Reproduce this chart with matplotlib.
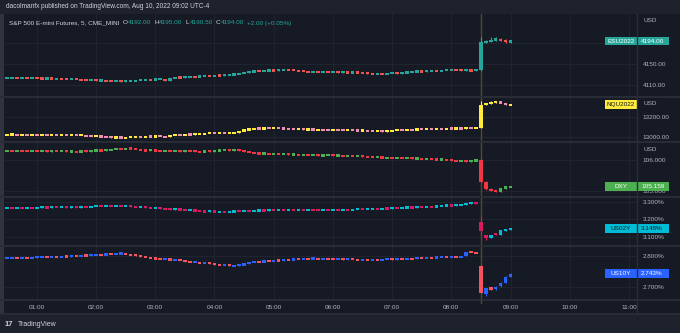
import matplotlib
matplotlib.use('Agg')
import matplotlib.pyplot as plt
import numpy as np
from matplotlib.patches import Rectangle
from matplotlib.lines import Line2D
from matplotlib.transforms import blended_transform_factory
from matplotlib.ticker import FixedLocator, FuncFormatter

W, H = 680, 333
BG = '#161a25'
PANEL = '#1e222d'
GRID = '#20242f'
SEP = '#2a2e39'
TXT = '#b2b5be'

plt.rcParams['font.family'] = ['Liberation Sans', 'DejaVu Sans']

# 5-minute bars from 00:30 to 09:00
bar_minutes = np.arange(30, 545, 5)
hour_ticks = np.arange(60, 661, 60)
hour_labels = ['%02d:00' % (m // 60) for m in hour_ticks]
release_minute = 510  # 08:30 CPI

# closes of the quiet bars, 00:30 .. 08:25
es_close = [
    4123.5, 4124.0, 4123.25, 4123.75, 4123.0, 4123.5,
    4122.5, 4122.0, 4122.75, 4121.5, 4122.25, 4121.75, 4121.0, 4121.5, 4120.75,
    4119.5, 4118.75, 4119.25, 4118.25, 4118.75,
    4117.5, 4116.75, 4117.25, 4116.5, 4117.0, 4117.75,
    4118.5, 4119.75, 4120.5, 4119.75, 4120.75, 4121.0,
    4117.5,
    4123.25, 4124.5, 4124.0, 4125.25, 4126.0, 4125.5, 4126.75,
    4127.5, 4127.0, 4128.0, 4127.75, 4128.75, 4129.5, 4130.0,
    4132.5, 4133.75, 4135.0,
    4136.5, 4136.0, 4137.5, 4138.0, 4137.25, 4139.0, 4139.5, 4138.75, 4137.75,
    4136.5, 4135.75, 4135.0, 4135.5, 4134.25, 4134.75, 4134.0,
    4134.5, 4133.75, 4134.25, 4133.5, 4134.0, 4133.25, 4132.75,
    4131.75, 4131.0, 4132.0, 4131.25, 4132.0,
    4132.5, 4131.75, 4132.75,
    4134.5, 4135.25, 4136.0, 4135.5, 4136.25, 4137.0, 4136.5, 4137.75, 4138.5,
    4139.0, 4138.25, 4137.5, 4138.5, 4137.0, 4138.75,
]
nq_close = [
    13021, 13024, 13018, 13022, 13019, 13021,
    13017, 13020, 13015, 13018, 13016, 13019, 13015, 13017, 13014, 13016,
    13006, 13003, 13005, 13000,
    12996, 12991, 12994, 12988, 12992, 12997,
    13001, 12998, 13004, 13000, 13006, 13003,
    12998,
    13018, 13021, 13019, 13024, 13022, 13026, 13028,
    13034, 13037, 13035, 13039, 13036, 13040, 13042,
    13058, 13069, 13078,
    13086, 13083, 13088, 13085, 13090, 13087, 13084,
    13080, 13076, 13079, 13073, 13077, 13071, 13074,
    13070, 13066, 13071, 13068, 13064, 13069, 13066, 13062, 13065,
    13059, 13055, 13058, 13053, 13057,
    13068, 13071, 13069, 13074, 13072, 13077, 13075, 13080, 13078, 13082,
    13079, 13085, 13083, 13087, 13084, 13088, 13085, 13089,
]
dxy_close = [
    106.29, 106.28, 106.30, 106.29, 106.28, 106.29,
    106.28, 106.29, 106.27, 106.30, 106.28, 106.29, 106.27,
    106.27, 106.26, 106.28, 106.27,
    106.30, 106.31, 106.30, 106.32,
    106.34, 106.36, 106.35, 106.37, 106.36, 106.35,
    106.31, 106.30, 106.32, 106.29, 106.28,
    106.29, 106.28, 106.30, 106.27, 106.29,
    106.28, 106.27, 106.26, 106.28, 106.27,
    106.30, 106.31, 106.32, 106.30, 106.33,
    106.29, 106.26, 106.24,
    106.22, 106.20, 106.21, 106.19, 106.20, 106.18, 106.19, 106.17,
    106.18, 106.16, 106.17, 106.15, 106.16, 106.14, 106.15,
    106.16, 106.14, 106.15, 106.13, 106.14, 106.12, 106.13,
    106.11, 106.10, 106.08, 106.09, 106.07, 106.08,
    106.06, 106.08, 106.05, 106.07, 106.04, 106.05,
    106.03, 106.04, 106.02, 106.01, 106.02, 106.00, 105.98,
    105.96, 105.97, 105.95, 105.97, 106.00,
]
us02_close = [
    3.264, 3.262, 3.265, 3.263, 3.264, 3.262,
    3.266, 3.268, 3.265, 3.269, 3.267, 3.270, 3.266,
    3.268, 3.266, 3.269, 3.267,
    3.272, 3.274, 3.273, 3.275, 3.274, 3.276, 3.273, 3.275,
    3.270, 3.267, 3.269, 3.265, 3.263, 3.265,
    3.260, 3.257, 3.255, 3.258, 3.252, 3.250, 3.252,
    3.247, 3.245, 3.243, 3.246, 3.242,
    3.244, 3.241, 3.243, 3.245, 3.244, 3.247, 3.246,
    3.249, 3.251, 3.248, 3.253, 3.250, 3.254, 3.251, 3.253, 3.250, 3.252,
    3.251, 3.254, 3.252, 3.250, 3.253, 3.251, 3.254, 3.252, 3.255, 3.253,
    3.256, 3.258, 3.257, 3.259, 3.261, 3.258, 3.262, 3.260, 3.263, 3.261,
    3.265, 3.267, 3.266, 3.269, 3.268, 3.271, 3.270, 3.273,
    3.276, 3.279, 3.277, 3.281, 3.283, 3.286, 3.293, 3.287,
]
us10_close = [
    2.793, 2.794, 2.792, 2.795, 2.793, 2.794,
    2.797, 2.799, 2.796, 2.798, 2.797, 2.799, 2.798,
    2.800, 2.799, 2.802, 2.801,
    2.803, 2.805, 2.804, 2.806, 2.805,
    2.807, 2.809, 2.806,
    2.803, 2.801, 2.798, 2.796, 2.793,
    2.791, 2.789, 2.790, 2.787, 2.788, 2.786,
    2.781, 2.779, 2.780, 2.777, 2.778, 2.775,
    2.772, 2.770, 2.771, 2.768, 2.769, 2.770,
    2.775, 2.779,
    2.782, 2.780, 2.784, 2.783, 2.786, 2.785, 2.788, 2.787, 2.790, 2.789,
    2.792, 2.791, 2.793, 2.790, 2.792, 2.791, 2.789, 2.791, 2.788, 2.790,
    2.789, 2.787, 2.789, 2.786, 2.788, 2.787, 2.789, 2.790, 2.788, 2.791,
    2.790, 2.792, 2.791, 2.794, 2.793, 2.795, 2.794, 2.796,
    2.797, 2.796, 2.798, 2.797, 2.799, 2.814, 2.812, 2.809,
]

# full OHLC for 08:30 .. 09:00
es_post = dict(o=[4138.5, 4192.0, 4193.5, 4196.0, 4198.5, 4195.5, 4192.0],
               h=[4201.5, 4196.0, 4201.0, 4201.0, 4199.5, 4197.0, 4195.0],
               l=[4137.0, 4190.0, 4192.0, 4194.5, 4193.5, 4191.0, 4190.5],
               c=[4192.0, 4193.5, 4196.0, 4198.0, 4194.0, 4192.0, 4194.0])
nq_post = dict(o=[13090, 13330, 13337, 13355, 13358, 13350, 13327],
               h=[13371, 13345, 13370, 13362, 13362, 13352, 13338],
               l=[13085, 13322, 13333, 13350, 13345, 13325, 13322],
               c=[13330, 13337, 13356, 13358, 13348, 13327, 13334])
dxy_post = dict(o=[106.01, 105.31, 105.07, 105.03, 104.99, 105.09, 105.14],
                h=[106.03, 105.33, 105.09, 105.05, 105.10, 105.16, 105.17],
                l=[105.29, 105.05, 105.00, 104.97, 104.98, 105.08, 105.13],
                c=[105.31, 105.07, 105.02, 104.99, 105.09, 105.15, 105.159])
us02_post = dict(o=[3.187, 3.112, 3.097, 3.118, 3.113, 3.139, 3.143],
                 h=[3.218, 3.114, 3.113, 3.120, 3.141, 3.146, 3.150],
                 l=[3.112, 3.084, 3.095, 3.111, 3.111, 3.137, 3.141],
                 c=[3.136, 3.097, 3.112, 3.113, 3.140, 3.144, 3.148])
us10_post = dict(o=[2.768, 2.676, 2.697, 2.692, 2.701, 2.713, 2.733],
                 h=[2.771, 2.697, 2.699, 2.702, 2.714, 2.734, 2.745],
                 l=[2.678, 2.670, 2.688, 2.690, 2.699, 2.711, 2.731],
                 c=[2.6805, 2.695, 2.692, 2.700, 2.713, 2.7326, 2.743])

panes = [
    # top, bottom, ylim, grid ticks, labelled ticks, fmt, closes, post,
    # up, down, tag, tag bg, tag fg, tag fmt, usd
    (14, 96, (4088.8, 4245.65), [4110, 4150, 4190], [4110, 4150], '{:.2f}',
     es_close, es_post, '#26a69a', '#ef5350', 'ESU2022', '#26a69a', 'white', '{:.2f}', True),
    (97, 141, (12955.7, 13409.3), [13000, 13200], [13000, 13200], '{:.2f}',
     nq_close, nq_post, '#ffeb3b', '#f48fb1', 'NQU2022', '#ffeb3b', '#131722', None, True),
    (143, 196, (104.85, 106.543), [105, 106], [105, 106], '{:.3f}',
     dxy_close, dxy_post, '#4caf50', '#f23645', 'DXY', '#4caf50', 'white', '{:.3f}', True),
    (198, 245, (3.0556, 3.3197), [3.1, 3.2, 3.3], [3.1, 3.2, 3.3], '{:.3f}%',
     us02_close, us02_post, '#00bcd4', '#d81b60', 'US02Y', '#00bcd4', '#131722', '{:.3f}%', False),
    (246, 299, (2.660, 2.8326), [2.7, 2.8], [2.7, 2.8], '{:.3f}%',
     us10_close, us10_post, '#2962ff', '#f7525f', 'US10Y', '#2962ff', 'white', '{:.3f}%', False),
]

fig = plt.figure(figsize=(W / 100, H / 100), dpi=100, facecolor=BG)


def fx(x):
    return x / W


def fy(y):
    return 1 - y / H


def fig_rect(x0, y0, x1, y1, color, z=0):
    fig.add_artist(Rectangle((fx(x0), fy(y1)), fx(x1 - x0), (y1 - y0) / H,
                             transform=fig.transFigure, fc=color, ec='none', zorder=z))


def fig_line(x0, y0, x1, y1, color, lw=1.0, z=5):
    fig.add_artist(Line2D([fx(x0), fx(x1)], [fy(y0), fy(y1)], transform=fig.transFigure,
                          color=color, lw=lw, zorder=z))


def draw_candles(ax, closes, post, up, down, min_px=2.2):
    n = len(closes)
    o = [closes[0]] + list(closes[:-1]) + post['o']
    c = list(closes) + post['c']
    h = [max(a, b) for a, b in zip(o[:n], closes)] + post['h']
    l = [min(a, b) for a, b in zip(o[:n], closes)] + post['l']
    o, c, h, l = map(np.array, (o, c, h, l))
    y0, y1 = ax.get_ylim()
    ph = ax.get_position().height * H
    min_h = min_px * (y1 - y0) / ph
    body = np.maximum(np.abs(c - o), min_h)
    bottom = (o + c) / 2 - body / 2
    colors = np.where(c >= o, up, down)
    ax.vlines(bar_minutes, l, h, colors=colors, lw=0.8, zorder=3)
    ax.bar(bar_minutes, body, bottom=bottom, width=3.6, color=colors, linewidth=0, zorder=4)


def price_tag(ax, value, name, bg, fg, fmt):
    tr = blended_transform_factory(fig.transFigure, ax.transData)
    y0, y1 = ax.get_ylim()
    ph = ax.get_position().height * H
    bh = 8.5 * (y1 - y0) / ph
    ax.add_patch(Rectangle((fx(605), value - bh / 2), fx(32), bh, transform=tr,
                           fc=bg, ec='none', clip_on=False, zorder=20))
    ax.text(fx(621), value, name, transform=tr, ha='center', va='center',
            color=fg, fontsize=4.6, clip_on=False, zorder=21)
    if fmt:
        ax.add_patch(Rectangle((fx(638), value - bh / 2), fx(31), bh, transform=tr,
                               fc=bg, ec='none', clip_on=False, zorder=20))
        ax.text(fx(641), value, fmt.format(value), transform=tr, ha='left', va='center',
                color=fg, fontsize=4.6, clip_on=False, zorder=21)


# header / footer strips and left border
fig_rect(0, 0, W, 13.5, PANEL)
fig_rect(0, 314, W, H, PANEL)
fig_rect(0, 13.5, 4, 314, '#30343f')

axes = []
for (top, bottom, ylim, grid_ticks, label_ticks, fmt, closes, post, up, down,
     tag, tag_bg, tag_fg, tag_fmt, usd) in panes:
    ax = fig.add_axes([fx(5), fy(bottom), fx(632), (bottom - top) / H])
    ax.set_facecolor(BG)
    ax.set_xlim(27.7, 668.2)
    ax.set_ylim(*ylim)
    for s in ax.spines.values():
        s.set_visible(False)
    ax.xaxis.set_major_locator(FixedLocator(hour_ticks))
    ax.yaxis.set_major_locator(FixedLocator(label_ticks))
    ax.yaxis.tick_right()
    ax.yaxis.set_major_formatter(FuncFormatter(lambda v, p, f=fmt: f.format(v)))
    ax.tick_params(axis='y', length=0, pad=4.3, labelsize=4.6, labelcolor=TXT)
    ax.tick_params(axis='x', length=0, labelbottom=False)
    ax.grid(True, axis='x', color=GRID, lw=0.8, zorder=0)
    for g in grid_ticks:
        ax.axhline(g, color=GRID, lw=0.8, zorder=0)
    ax.set_axisbelow(True)
    ax.axvline(release_minute, color='#4f4b2c', lw=1.0, zorder=2)
    draw_candles(ax, closes, post, up, down)
    price_tag(ax, post['c'][-1], tag, tag_bg, tag_fg, tag_fmt)
    if usd:
        ax.text(fx(643), fy(top + 6.5), 'USD', transform=fig.transFigure, ha='left',
                va='center', color=TXT, fontsize=4.6)
    axes.append(ax)

# time axis under the last pane
axes[-1].set_xticklabels(hour_labels)
axes[-1].tick_params(axis='x', labelbottom=True, labelsize=4.6, labelcolor=TXT, pad=4)

# pane separators and price-scale border
for y in [96.5, 142, 197, 245.5, 299.5, 314]:
    fig_line(0, y, W, y, SEP, lw=1.3)
fig_line(637, 13.5, 637, 314, SEP, lw=1.0)
fig_line(481, 299.5, 481, 303, '#4f4b2c', lw=1.0)

# header and legend text
fig.text(fx(6), fy(7), 'dacolmanfx published on TradingView.com, Aug 10, 2022 09:02 UTC-4',
         color='#d1d4dc', fontsize=4.7, va='center', ha='left')

renderer = fig.canvas.get_renderer()
legend_parts = [('S&P 500 E-mini Futures, 5, CME_MINI', '#d1d4dc', 3.5),
                ('O', '#d1d4dc', 0.3), ('4192.00', '#26a69a', 3.0),
                ('H', '#d1d4dc', 0.3), ('4195.00', '#26a69a', 3.0),
                ('L', '#d1d4dc', 0.3), ('4190.50', '#26a69a', 3.0),
                ('C', '#d1d4dc', 0.3), ('4194.00', '#26a69a', 3.0),
                ('+2.00 (+0.05%)', '#26a69a', 0)]
x = 9
for s, col, gap in legend_parts:
    t = fig.text(fx(x), fy(23), s, color=col, fontsize=4.6, va='center', ha='left')
    x += t.get_window_extent(renderer=renderer).width + gap

# footer logo
fig.text(fx(5), fy(324), '17', color='#d1d4dc', fontsize=5.5, fontweight='bold',
         va='center', ha='left')
fig.text(fx(18), fy(324), 'TradingView', color='#d1d4dc', fontsize=5.0,
         va='center', ha='left')

fig.savefig('out.png', dpi=100, facecolor=BG)
